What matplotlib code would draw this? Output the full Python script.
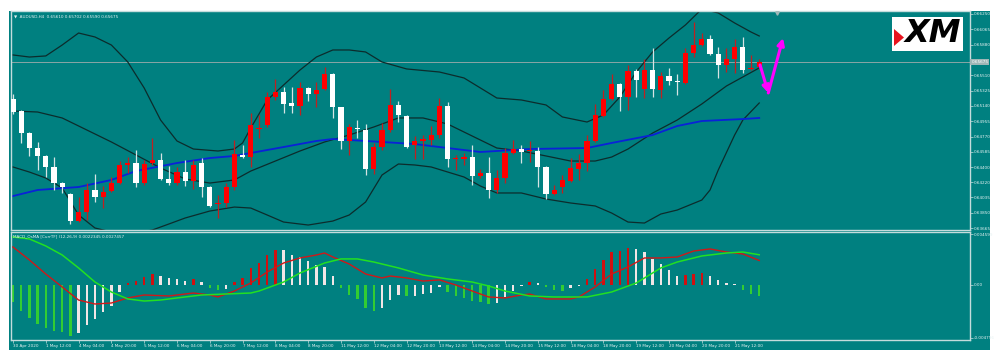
import numpy as np
import matplotlib
matplotlib.use("Agg")
import matplotlib.pyplot as plt
from matplotlib.patches import Rectangle, Polygon

# ===============================
# DATA (AUDUSD H4)
# ===============================
opens = [0.65223, 0.65078, 0.64812, 0.64631, 0.64535, 0.64402, 0.64208, 0.64076, 0.63749, 0.63858,
         0.64124, 0.64039, 0.64112, 0.64208, 0.64426, 0.64450, 0.64208, 0.64450, 0.64486, 0.64257,
         0.64208, 0.64341, 0.64233, 0.64450, 0.64160, 0.63955, 0.63967, 0.64160, 0.64547, 0.64522,
         0.64861, 0.64909, 0.65247, 0.65308, 0.65175, 0.65139, 0.65356, 0.65283, 0.65344, 0.65525,
         0.65126, 0.64716, 0.64873, 0.64849, 0.64378, 0.64643, 0.64849, 0.65151, 0.65018, 0.64667,
         0.64716, 0.64728, 0.64788, 0.65139, 0.64498, 0.64498, 0.64522, 0.64293, 0.64329, 0.64124,
         0.64269, 0.64571, 0.64619, 0.64595, 0.64595, 0.64402, 0.64076, 0.64160, 0.64233, 0.64378,
         0.64450, 0.64716, 0.65018, 0.65223, 0.65404, 0.65247, 0.65561, 0.65344, 0.65573, 0.65332,
         0.65501, 0.65441, 0.65416, 0.65779, 0.65875, 0.65948, 0.65767, 0.65634, 0.65706, 0.65851,
         0.65586, 0.65610]
highs = [0.65283, 0.65090, 0.64824, 0.64704, 0.64547, 0.64522, 0.64220, 0.64088, 0.64039, 0.64208,
         0.64317, 0.64172, 0.64281, 0.64474, 0.64522, 0.64607, 0.64486, 0.64752, 0.64571, 0.64414,
         0.64402, 0.64486, 0.64486, 0.64510, 0.64172, 0.64063, 0.64208, 0.64728, 0.64667, 0.65054,
         0.65030, 0.65308, 0.65465, 0.65368, 0.65368, 0.65428, 0.65368, 0.65428, 0.65610, 0.65537,
         0.65126, 0.64921, 0.64969, 0.64921, 0.64692, 0.64933, 0.65344, 0.65199, 0.65030, 0.64776,
         0.64788, 0.64897, 0.65235, 0.65187, 0.64547, 0.64571, 0.64667, 0.64378, 0.64522, 0.64365,
         0.64631, 0.64728, 0.64667, 0.64716, 0.64643, 0.64414, 0.64184, 0.64305, 0.64510, 0.64559,
         0.64788, 0.65163, 0.65332, 0.65525, 0.65416, 0.65634, 0.65586, 0.65706, 0.65839, 0.65549,
         0.65598, 0.65525, 0.65839, 0.66153, 0.66020, 0.65996, 0.65851, 0.65839, 0.65948, 0.65972,
         0.65755, 0.65702]
lows = [0.65042, 0.64692, 0.64535, 0.64365, 0.64281, 0.64124, 0.64088, 0.63713, 0.63737, 0.63761,
        0.63979, 0.63906, 0.64100, 0.64196, 0.64329, 0.64160, 0.64184, 0.64426, 0.64245, 0.64184,
        0.64184, 0.64172, 0.64136, 0.64039, 0.63918, 0.63786, 0.63918, 0.64124, 0.64510, 0.64402,
        0.64752, 0.64885, 0.65211, 0.65054, 0.65054, 0.65030, 0.65199, 0.65126, 0.65332, 0.64994,
        0.64619, 0.64547, 0.64752, 0.64305, 0.64317, 0.64607, 0.64824, 0.64945, 0.64631, 0.64498,
        0.64498, 0.64667, 0.64752, 0.64402, 0.64365, 0.64426, 0.64184, 0.64269, 0.64027, 0.64088,
        0.64208, 0.64559, 0.64450, 0.64462, 0.64160, 0.64015, 0.64063, 0.64088, 0.64220, 0.64245,
        0.64353, 0.64704, 0.65006, 0.65211, 0.65078, 0.65090, 0.65247, 0.65235, 0.65247, 0.65235,
        0.65392, 0.65271, 0.65404, 0.65730, 0.65863, 0.65755, 0.65477, 0.65549, 0.65537, 0.65537,
        0.65573, 0.65590]
closes = [0.65066, 0.64812, 0.64631, 0.64535, 0.64402, 0.64208, 0.64160, 0.63749, 0.63858, 0.64124,
          0.64039, 0.64100, 0.64208, 0.64426, 0.64450, 0.64208, 0.64438, 0.64486, 0.64257, 0.64208,
          0.64341, 0.64233, 0.64426, 0.64160, 0.63931, 0.63967, 0.64160, 0.64559, 0.64522, 0.64909,
          0.64873, 0.65247, 0.65308, 0.65163, 0.65139, 0.65356, 0.65283, 0.65332, 0.65525, 0.65126,
          0.64716, 0.64885, 0.64861, 0.64378, 0.64643, 0.64849, 0.65151, 0.65030, 0.64643, 0.64716,
          0.64740, 0.64788, 0.65139, 0.64498, 0.64510, 0.64522, 0.64293, 0.64329, 0.64124, 0.64269,
          0.64571, 0.64619, 0.64583, 0.64607, 0.64402, 0.64076, 0.64124, 0.64245, 0.64390, 0.64450,
          0.64716, 0.65030, 0.65223, 0.65404, 0.65247, 0.65561, 0.65453, 0.65573, 0.65344, 0.65501,
          0.65441, 0.65428, 0.65779, 0.65875, 0.65948, 0.65767, 0.65634, 0.65706, 0.65851, 0.65573,
          0.65598, 0.65675]

# Bollinger bands and moving average, sampled at bar indices
upper_idx = [0, 2, 4, 6, 8, 10, 12, 14, 16, 18, 20, 22, 25, 27, 28, 29, 31, 33, 35, 37, 39, 41,
             43, 45, 48, 52, 55, 57, 59, 62, 65, 67, 70, 72, 74, 76, 78, 80, 82, 84, 86, 88, 90, 91]
upper_val = [0.65755, 0.65730, 0.65743, 0.65875, 0.66020, 0.65972, 0.65875, 0.65670, 0.65356, 0.64969,
             0.64716, 0.64619, 0.64595, 0.64619, 0.64692, 0.64873, 0.65211, 0.65392, 0.65573, 0.65730,
             0.65815, 0.65815, 0.65791, 0.65670, 0.65586, 0.65549, 0.65477, 0.65356, 0.65235, 0.65211,
             0.65151, 0.65006, 0.64945, 0.65030, 0.65247, 0.65549, 0.65791, 0.65960, 0.66117, 0.66310,
             0.66262, 0.66141, 0.66032, 0.65984]
middle_idx = [0, 3, 6, 9, 12, 15, 18, 21, 24, 27, 29, 32, 35, 38, 41, 44, 47, 50, 53, 56, 59, 62,
              65, 68, 71, 73, 75, 78, 81, 84, 87, 89, 91]
middle_val = [0.65078, 0.65066, 0.64994, 0.64849, 0.64704, 0.64547, 0.64390, 0.64257, 0.64208, 0.64245,
              0.64353, 0.64474, 0.64595, 0.64704, 0.64788, 0.64885, 0.64994, 0.64994, 0.64921, 0.64776,
              0.64631, 0.64595, 0.64535, 0.64474, 0.64474, 0.64522, 0.64619, 0.64812, 0.64969, 0.65163,
              0.65380, 0.65489, 0.65598]
lower_idx = [0, 2, 4, 6, 8, 10, 12, 15, 17, 19, 21, 24, 27, 29, 31, 33, 36, 39, 41, 43, 45, 47,
             49, 51, 55, 57, 59, 62, 65, 68, 71, 73, 75, 77, 79, 81, 84, 85, 86, 88, 89, 91]
lower_val = [0.64402, 0.64341, 0.64269, 0.64148, 0.63822, 0.63665, 0.63617, 0.63604, 0.63641, 0.63713,
             0.63786, 0.63870, 0.63918, 0.63906, 0.63822, 0.63737, 0.63701, 0.63749, 0.63822, 0.63979,
             0.64305, 0.64438, 0.64426, 0.64402, 0.64281, 0.64172, 0.64088, 0.64088, 0.64015, 0.63967,
             0.63931, 0.63846, 0.63737, 0.63725, 0.63834, 0.63882, 0.64003, 0.64124, 0.64365, 0.64788,
             0.64969, 0.65175]
ma_idx = [0, 3, 8, 12, 15, 20, 24, 27, 29, 33, 37, 39, 45, 49, 53, 57, 59, 63, 70, 73, 78, 81, 84, 89, 91]
ma_val = [0.64051, 0.64124, 0.64160, 0.64245, 0.64353, 0.64450, 0.64510, 0.64535, 0.64571, 0.64643,
          0.64716, 0.64740, 0.64704, 0.64679, 0.64631, 0.64583, 0.64595, 0.64619, 0.64631, 0.64692,
          0.64788, 0.64897, 0.64957, 0.64981, 0.64994]

# MACD / OsMA panel
osma = [-0.00155, -0.00237, -0.00300, -0.00355, -0.00391, -0.00419, -0.00428, -0.00464, -0.00437, -0.00364,
        -0.00309, -0.00246, -0.00191, -0.00064, 0.00018, 0.00036, 0.00073, 0.00100, 0.00082, 0.00064,
        0.00055, 0.00036, 0.00055, 0.00027, -0.00027, -0.00046, -0.00036, 0.00027, 0.00064, 0.00155,
        0.00200, 0.00273, 0.00319, 0.00315, 0.00273, 0.00255, 0.00218, 0.00182, 0.00164, 0.00082,
        -0.00027, -0.00091, -0.00127, -0.00209, -0.00237, -0.00209, -0.00137, -0.00091, -0.00100, -0.00096,
        -0.00082, -0.00073, -0.00018, -0.00064, -0.00100, -0.00118, -0.00146, -0.00155, -0.00173, -0.00164,
        -0.00109, -0.00055, -0.00009, 0.00027, 0.00020, -0.00018, -0.00046, -0.00055, -0.00027, -0.00009,
        0.00055, 0.00146, 0.00228, 0.00300, 0.00309, 0.00337, 0.00328, 0.00300, 0.00237, 0.00191,
        0.00137, 0.00082, 0.00091, 0.00100, 0.00109, 0.00082, 0.00046, 0.00018, 0.00009, -0.00046,
        -0.00082, -0.00100]
osma_state = ("GGGGGGGG" "WWWWWW" "RRRR" "WWWW" "R" "W" "GG" "W" "RRRRRR" "WWWWWWW" "GGGGG"
              "WWW" "G" "WWWW" "GGGGGG" "WWWW" "R" "W" "GGG" "WW" "RRRRRR" "WWWWWW" "RRR" "WWWW" "GGG")

macd_idx = [0, 2, 4, 6, 8, 10, 12, 14, 16, 19, 22, 24, 25, 27, 29, 31, 33, 35, 37, 38, 39, 41, 43, 45,
            46, 48, 50, 52, 54, 56, 58, 60, 62, 63, 65, 68, 69, 71, 73, 75, 77, 79, 81, 83, 85, 87, 89, 91]
macd_val = [0.00346, 0.00228, 0.00100, -0.00018, -0.00137, -0.00173, -0.00164, -0.00118, -0.00091, -0.00100,
            -0.00073, -0.00091, -0.00109, -0.00055, 0.00018, 0.00118, 0.00200, 0.00246, 0.00273, 0.00291,
            0.00255, 0.00191, 0.00100, 0.00064, 0.00082, 0.00064, 0.00036, 0.00046, 0.00000, -0.00055,
            -0.00109, -0.00118, -0.00091, -0.00082, -0.00127, -0.00127, -0.00109, -0.00018, 0.00100, 0.00164,
            0.00246, 0.00246, 0.00255, 0.00309, 0.00328, 0.00300, 0.00282, 0.00223]
signal_idx = [0, 2, 4, 6, 8, 10, 12, 14, 16, 18, 20, 23, 26, 29, 30, 33, 35, 38, 40, 42, 44, 47, 50,
              53, 56, 58, 60, 63, 66, 70, 73, 76, 79, 81, 84, 87, 89, 91]
signal_val = [0.00437, 0.00419, 0.00355, 0.00273, 0.00155, 0.00027, -0.00064, -0.00127, -0.00146, -0.00137,
              -0.00118, -0.00091, -0.00082, -0.00073, -0.00055, 0.00027, 0.00109, 0.00200, 0.00237, 0.00237,
              0.00209, 0.00155, 0.00091, 0.00055, 0.00027, -0.00009, -0.00055, -0.00100, -0.00109, -0.00109,
              -0.00064, 0.00018, 0.00155, 0.00209, 0.00264, 0.00291, 0.00300, 0.00275]

price_ticks = [0.66250, 0.66065, 0.65880, 0.65510, 0.65325, 0.65140, 0.64955, 0.64770,
               0.64585, 0.64400, 0.64220, 0.64035, 0.63850, 0.63665]
osma_ticks = [0.004599, 0.0, -0.004796]
osma_tick_labels = ["0.004599", "0.00", "-0.004796"]
time_labels = ["30 Apr 2020", "1 May 12:00", "4 May 04:00", "4 May 20:00", "5 May 12:00",
               "6 May 04:00", "6 May 20:00", "7 May 12:00", "8 May 04:00", "8 May 20:00",
               "11 May 12:00", "12 May 04:00", "12 May 20:00", "13 May 12:00", "14 May 04:00",
               "14 May 20:00", "15 May 12:00", "18 May 04:00", "18 May 20:00", "19 May 12:00",
               "20 May 04:00", "20 May 20:00", "21 May 12:00"]
last_price = 0.65675

# ===============================
# STYLE
# ===============================
TEAL = "#008080"
FG = "#c4dcdc"
TXT = "#e6f2f2"
BAR_UP = "#ff0000"
BAR_DN = "#ffffff"
HIST_COL = {"G": "#32cd32", "W": "#f2e6e6", "R": "#d01010"}

fig = plt.figure(figsize=(10, 3.61), dpi=100)
fig.patch.set_facecolor("white")
fig.add_artist(Rectangle((0.009, 1 - 350 / 361), 0.981, 339 / 361, transform=fig.transFigure,
                         facecolor=TEAL, edgecolor="none", zorder=0))

ax = fig.add_axes([0.011, 0.3629, 0.959, 0.6053])
ax2 = fig.add_axes([0.011, 0.0582, 0.959, 0.2992])
XLIM = (-0.24, 116.7)

for a in (ax, ax2):
    a.set_facecolor(TEAL)
    a.set_xlim(*XLIM)
    for s in a.spines.values():
        s.set_color(FG)
        s.set_linewidth(1.0)
    a.yaxis.tick_right()
    a.tick_params(axis="both", colors=FG, labelcolor=TXT, labelsize=3, length=2, width=0.5, pad=1)

# ===============================
# PRICE PANEL
# ===============================
o = np.array(opens)
h = np.array(highs)
l = np.array(lows)
c = np.array(closes)
x = np.arange(len(c))
bull = c > o
body_col = np.where(bull, BAR_UP, BAR_DN)
wick_col = np.where(bull, "#c02020", "#d6e4e4")

ax.plot(upper_idx, upper_val, color="#0c2c2c", lw=0.9, zorder=2)
ax.plot(middle_idx, middle_val, color="#0c2c2c", lw=0.9, zorder=2)
ax.plot(lower_idx, lower_val, color="#0c2c2c", lw=0.9, zorder=2)
ax.plot(ma_idx, ma_val, color="#0a22d8", lw=1.3, zorder=2)

ax.vlines(x, l, h, colors=wick_col, lw=0.9, zorder=3)
ax.bar(x, np.maximum(np.abs(c - o), 0.00009), bottom=np.minimum(o, c), width=0.62,
       color=body_col, lw=0, zorder=4)

ax.axhline(last_price, color="#8aa6a6", lw=0.7, zorder=1)
ax.set_ylim(0.63641, 0.66280)
ax.set_yticks(price_ticks)
ax.set_yticklabels([f"{t:.5f}" for t in price_ticks])
ax.set_xticks([])
ax.text(1.0015, last_price, f"{last_price:.5f}", transform=ax.get_yaxis_transform(),
        fontsize=3, color="white", va="center", ha="left",
        bbox=dict(boxstyle="square,pad=0.25", facecolor="#9fb6b6", edgecolor="none"))

ax.text(0.003, 0.985, "\u25bc  AUDUSD,H4  0.65610 0.65702 0.65590 0.65675", transform=ax.transAxes,
        fontsize=3, color=TXT, va="top", ha="left")

# magenta forecast arrows
arrow = dict(arrowstyle="-|>", color="#ff00ff", lw=2.2, mutation_scale=10, shrinkA=0, shrinkB=0)
ax.annotate("", xy=(92.1, 0.65296), xytext=(91.1, 0.65634), arrowprops=arrow, zorder=6)
ax.annotate("", xy=(93.9, 0.65960), xytext=(92.1, 0.65296), arrowprops=arrow, zorder=6)
ax.plot([93.2], [0.66262], marker="v", ms=2.5, color="#a0b8b8", clip_on=False, zorder=6)

# XM logo
fig.add_artist(Rectangle((0.892, 1 - 51 / 361), 0.071, 34 / 361, transform=fig.transFigure,
                         facecolor="white", edgecolor="none", zorder=5))
fig.add_artist(Polygon([(0.894, 1 - 29 / 361), (0.894, 1 - 46 / 361), (0.904, 1 - 37.5 / 361)],
                       closed=True, transform=fig.transFigure, facecolor="#e8141e",
                       edgecolor="none", zorder=6))
fig.text(0.933, 1 - 34 / 361, "XM", ha="center", va="center", fontsize=23, fontweight="bold",
         fontstyle="italic", color="black", zorder=7)

# ===============================
# MACD / OsMA PANEL
# ===============================
ax2.bar(x, osma, width=0.28, color=[HIST_COL[s] for s in osma_state], lw=0, zorder=2)
ax2.plot(macd_idx, macd_val, color="#d01818", lw=1.0, zorder=3)
ax2.plot(signal_idx, signal_val, color="#22e022", lw=1.1, zorder=3)
ax2.set_ylim(-0.005005, 0.004823)
ax2.set_yticks(osma_ticks)
ax2.set_yticklabels(osma_tick_labels)
ax2.set_xticks(np.arange(0, 4 * len(time_labels), 4))
ax2.set_xticklabels(time_labels)
for lbl in ax2.get_xticklabels():
    lbl.set_horizontalalignment("left")
ax2.text(0.002, 0.975, "MACD_OsMA [CurrTF] (12,26,9) 0.0022345 0.0027457", transform=ax2.transAxes,
         fontsize=3, color=TXT, va="top", ha="left")

fig.savefig("out.png", dpi=100, facecolor=fig.get_facecolor())
